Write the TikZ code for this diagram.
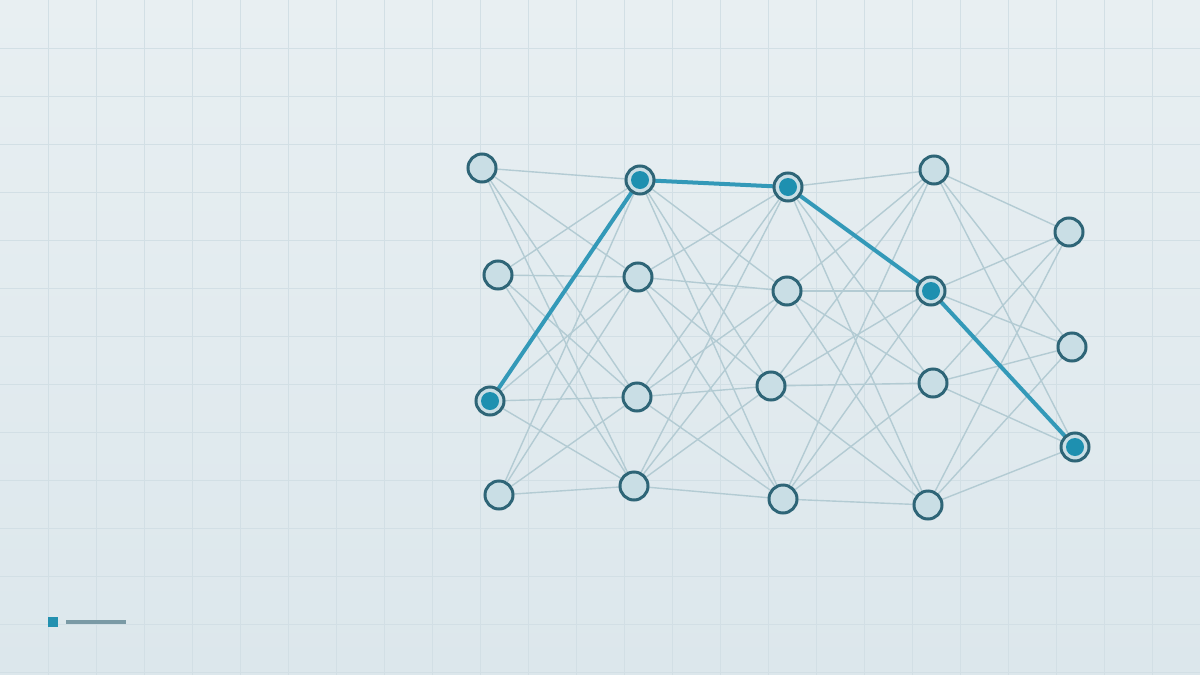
\documentclass[tikz,border=0pt]{standalone}
\begin{document}
\begin{tikzpicture}[x=1pt,y=-1pt,
  edge/.style={draw=edgec,line width=1.4pt},
  hot/.style={draw=hotc,line width=4pt},
  neuron/.style={circle,minimum size=28pt,inner sep=0pt,fill=nodefill,draw=nodestroke,line width=3pt},
  dot/.style={circle,minimum size=18pt,inner sep=0pt,fill=dotc},
  gridl/.style={draw=gridc,line width=0.9pt}]
\definecolor{bgtop}{HTML}{E8EFF2}
\definecolor{bgbot}{HTML}{DCE7EC}
\definecolor{gridc}{HTML}{D2DFE5}
\definecolor{edgec}{HTML}{B3CBD3}
\definecolor{hotc}{HTML}{3399B8}
\definecolor{nodefill}{HTML}{C9DEE5}
\definecolor{nodestroke}{HTML}{2E6577}
\definecolor{dotc}{HTML}{1E90B0}
\definecolor{legsq}{HTML}{2391B0}
\definecolor{legln}{HTML}{7A9AA5}
\useasboundingbox (0,0) rectangle (1200,675);
\shade[top color=bgtop,bottom color=bgbot] (0,0) rectangle (1200,675);
\foreach \x in {48,96,...,1152} \draw[gridl] (\x,0) -- (\x,675);
\foreach \y in {48,96,...,672} \draw[gridl] (0,\y) -- (1200,\y);
% coordinates
\coordinate (A0) at (482,168);
\coordinate (A1) at (498,275);
\coordinate (A2) at (490,401);
\coordinate (A3) at (499,495);
\coordinate (B0) at (640,180);
\coordinate (B1) at (638,277);
\coordinate (B2) at (637,397);
\coordinate (B3) at (634,486);
\coordinate (C0) at (788,187);
\coordinate (C1) at (787,291);
\coordinate (C2) at (771,386);
\coordinate (C3) at (783,499);
\coordinate (D0) at (934,170);
\coordinate (D1) at (931,291);
\coordinate (D2) at (933,383);
\coordinate (D3) at (928,505);
\coordinate (E0) at (1069,232);
\coordinate (E1) at (1072,347);
\coordinate (E2) at (1075,447);
% thin edges
\foreach \i in {0,1,2,3}{
  \foreach \j in {0,1,2,3}{
    \draw[edge] (A\i) -- (B\j);
    \draw[edge] (B\i) -- (C\j);
    \draw[edge] (C\i) -- (D\j);
  }
  \foreach \j in {0,1,2}{
    \draw[edge] (D\i) -- (E\j);
  }
}
% highlighted path
\draw[hot,line join=round] (A2) -- (B0) -- (C0) -- (D1) -- (E2);
% neurons
\foreach \n in {A0,A1,A2,A3,B0,B1,B2,B3,C0,C1,C2,C3,D0,D1,D2,D3,E0,E1,E2}
  \node[neuron] (n\n) at (\n) {};
\foreach \n in {A2,B0,C0,D1,E2}
  \node[dot] (d\n) at (\n) {};
% legend
\node[fill=legsq,minimum size=10pt,inner sep=0pt] (legsquare) at (53,622) {};
\coordinate (legA) at (66,622);
\coordinate (legB) at (126,622);
\draw[draw=legln,line width=4pt] (legA) -- (legB);
\end{tikzpicture}
\end{document}
